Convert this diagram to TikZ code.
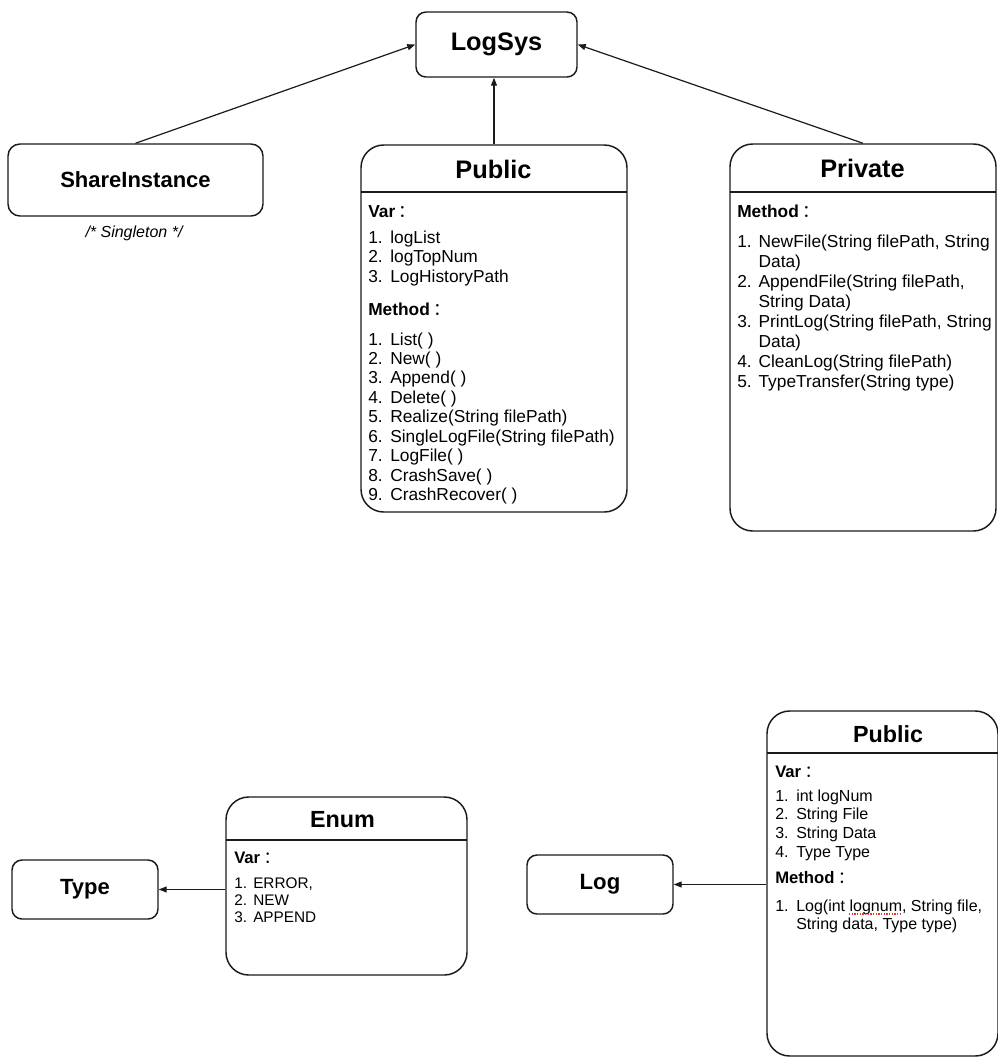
\documentclass[tikz,border=0pt]{standalone}
\usepackage{fontspec}
\setmainfont{Liberation Sans}
\newfontfamily\cjk{Noto Sans CJK SC}
\usetikzlibrary{arrows.meta}
\definecolor{lsline}{HTML}{1A1A1A}
\definecolor{lsred}{HTML}{E53935}
\newcommand{\colonzh}{{\hspace{2.5pt}\cjk\mdseries ：}}

\begin{document}
\begin{tikzpicture}[x=0.75pt, y=-0.75pt,
    box/.style={draw=lsline, line width=1.1pt, rounded corners=7.5pt, inner sep=0pt},
    cls/.style={draw=lsline, line width=1.1pt, rounded corners=17pt, inner sep=0pt},
    ttl/.style={font=\fontsize{19}{22}\selectfont\bfseries, anchor=base, inner sep=0pt},
    head/.style={font=\fontsize{13}{15}\selectfont\bfseries, anchor=base west, inner sep=0pt},
    body/.style={font=\fontsize{13}{14.8}\selectfont, anchor=base west, inner sep=0pt},
    arr/.style={-{Triangle[length=6pt,width=4.5pt]}, line width=0.9pt, draw=lsline}]
    \useasboundingbox (0,0) rectangle (998,1058);

    % LogSys and its three parts
    \node[box, minimum width=120.75pt, minimum height=48.75pt, font=\fontsize{19}{22}\selectfont\bfseries] (logsys) at (496.5,44.5) {LogSys};
    \node[box, rounded corners=9pt, minimum width=191.25pt, minimum height=54pt, font=\fontsize{16.5}{19}\selectfont\bfseries] (share) at (135.5,180) {ShareInstance};
    \node[font=\fontsize{12}{14}\selectfont\itshape, anchor=base, inner sep=0pt] (single) at (134,237) {/* Singleton */};

    \node[cls, minimum width=199.5pt, minimum height=275.25pt] (pub) at (494,328.5) {};
    \node[ttl] (pubttl) at (493.5,178) {Public};
    \draw[lsline, line width=1.1pt] (361,192) -- (627,192);
    \node[head] (pubvar) at (368,217) {Var\colonzh};
    \node[body] (publist) at (368,243) {\begin{tabular}[t]{@{}p{16.5pt}@{}l@{}}
        1. & logList\\ 2. & logTopNum\\ 3. & LogHistoryPath\end{tabular}};
    \node[head] (pubmeth) at (368,315) {Method\colonzh};
    \node[body, font=\fontsize{13}{14.6}\selectfont] (pubmlist) at (368,345) {\begin{tabular}[t]{@{}p{16.5pt}@{}l@{}}
        1. & List( )\\ 2. & New( )\\ 3. & Append( )\\ 4. & Delete( )\\
        5. & Realize(String filePath)\\ 6. & SingleLogFile(String filePath)\\
        7. & LogFile( )\\ 8. & CrashSave( )\\ 9. & CrashRecover( )\end{tabular}};

    \node[cls, minimum width=199.5pt, minimum height=290.25pt] (priv) at (863,337.5) {};
    \node[ttl] (privttl) at (862.5,177) {Private};
    \draw[lsline, line width=1.1pt] (730,192) -- (996,192);
    \node[head] (privmeth) at (737,217) {Method\colonzh};
    \node[body, font=\fontsize{13}{15}\selectfont] (privlist) at (737,247) {\begin{tabular}[t]{@{}p{16pt}@{}l@{}}
        1. & NewFile(String filePath, String\\ & Data)\\
        2. & AppendFile(String filePath,\\ & String Data)\\
        3. & PrintLog(String filePath, String\\ & Data)\\
        4. & CleanLog(String filePath)\\ 5. & TypeTransfer(String type)\end{tabular}};

    \draw[arr] (share.north) -- (logsys.west);
    \draw[arr] (pub.north) -- (pub.north |- logsys.south);
    \draw[arr] (priv.north) -- (logsys.east);

    % Type / Enum
    \node[box, minimum width=109.5pt, minimum height=44.25pt, font=\fontsize{16.5}{19}\selectfont\bfseries] (type) at (85,889.5) {Type};
    \node[cls, minimum width=180.75pt, minimum height=133.5pt] (enum) at (346.5,886) {};
    \node[ttl, font=\fontsize{17.5}{20}\selectfont\bfseries] (enumttl) at (342.5,827) {Enum};
    \draw[lsline, line width=1.1pt] (226,840) -- (467,840);
    \node[head, font=\fontsize{12.5}{14}\selectfont\bfseries] (enumvar) at (234,863) {Var\colonzh};
    \node[body, font=\fontsize{11.5}{13.1}\selectfont] (enumlist) at (234,888) {\begin{tabular}[t]{@{}p{14.25pt}@{}l@{}}
        1. & ERROR,\\ 2. & NEW\\ 3. & APPEND\end{tabular}};
    \draw[arr] (enum.west |- type.east) -- (type.east);

    % Log / Public
    \node[box, minimum width=109.5pt, minimum height=44.25pt, font=\fontsize{16.6}{19}\selectfont\bfseries] (log) at (600,884.5) {Log};
    \node[cls, minimum width=173.25pt, minimum height=258.75pt] (pubb) at (882.5,883.5) {};
    \node[ttl, font=\fontsize{17.5}{20}\selectfont\bfseries] (pubbttl) at (888,742) {Public};
    \draw[lsline, line width=1.1pt] (767,753) -- (998,753);
    \node[head, font=\fontsize{12.5}{14}\selectfont\bfseries] (pubbvar) at (775,777) {Var\colonzh};
    \node[body, font=\fontsize{12}{14}\selectfont] (pubblist) at (775,801) {\begin{tabular}[t]{@{}p{15.75pt}@{}l@{}}
        1. & int logNum\\ 2. & String File\\ 3. & String Data\\ 4. & Type Type\end{tabular}};
    \node[head, font=\fontsize{12.5}{14}\selectfont\bfseries] (pubbmeth) at (775,883) {Method\colonzh};
    \node[body, font=\fontsize{12}{13.5}\selectfont] (pubbmlist) at (775,911) {\begin{tabular}[t]{@{}p{15.75pt}@{}l@{}}
        1. & Log(int lognum, String file,\\ & String data, Type type)\end{tabular}};
    \draw[lsred, densely dotted, line width=1pt] (849,914) -- (901,914);
    \draw[arr] (pubb.west |- log.east) -- (log.east);
  \end{tikzpicture}
\end{document}
